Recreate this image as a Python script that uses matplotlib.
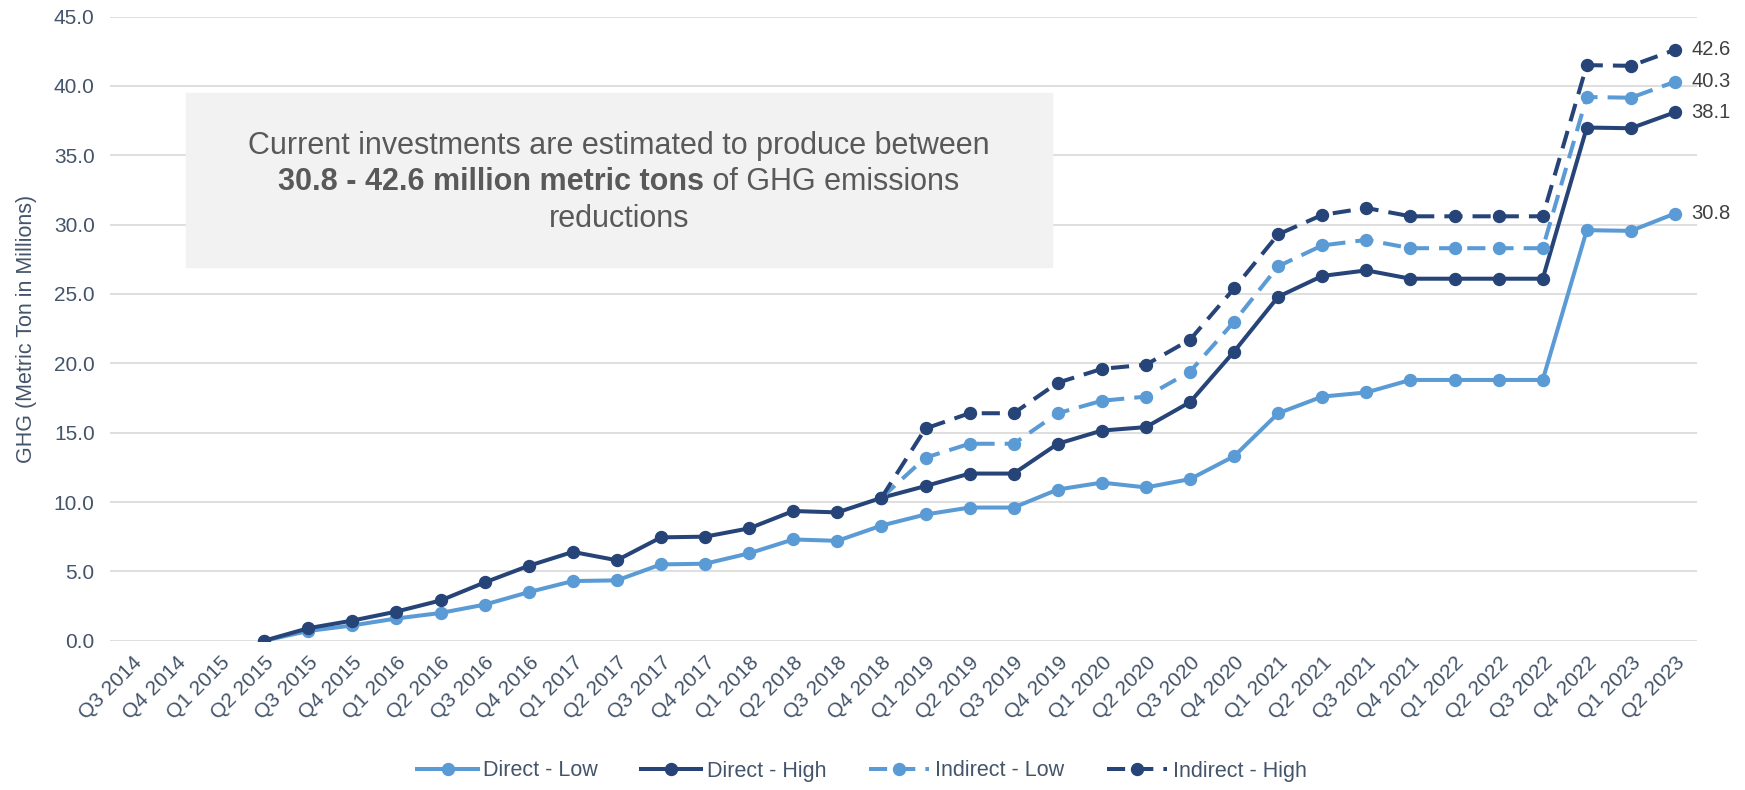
import matplotlib
matplotlib.use('Agg')
import matplotlib.pyplot as plt
import numpy as np

plt.rcParams['font.family'] = ['Liberation Sans', 'DejaVu Sans']

quarters = ['Q3 2014', 'Q4 2014', 'Q1 2015', 'Q2 2015', 'Q3 2015', 'Q4 2015',
            'Q1 2016', 'Q2 2016', 'Q3 2016', 'Q4 2016', 'Q1 2017', 'Q2 2017',
            'Q3 2017', 'Q4 2017', 'Q1 2018', 'Q2 2018', 'Q3 2018', 'Q4 2018',
            'Q1 2019', 'Q2 2019', 'Q3 2019', 'Q4 2019', 'Q1 2020', 'Q2 2020',
            'Q3 2020', 'Q4 2020', 'Q1 2021', 'Q2 2021', 'Q3 2021', 'Q4 2021',
            'Q1 2022', 'Q2 2022', 'Q3 2022', 'Q4 2022', 'Q1 2023', 'Q2 2023']

# direct series start at Q2 2015
direct_low = [0.0, 0.7, 1.1, 1.6, 2.0, 2.6, 3.5, 4.3, 4.35, 5.5, 5.55, 6.3,
              7.3, 7.2, 8.3, 9.1, 9.6, 9.6, 10.9, 11.4, 11.05, 11.65, 13.3,
              16.4, 17.6, 17.9, 18.8, 18.8, 18.8, 18.8, 29.6, 29.55, 30.8]
direct_high = [0.0, 0.9, 1.45, 2.1, 2.9, 4.2, 5.4, 6.4, 5.8, 7.45, 7.5, 8.1,
               9.35, 9.25, 10.3, 11.15, 12.05, 12.05, 14.2, 15.15, 15.4, 17.2,
               20.85, 24.8, 26.3, 26.7, 26.1, 26.1, 26.1, 26.1, 37.0, 36.95, 38.1]
# indirect series start at Q4 2018
indirect_low = [10.3, 13.2, 14.2, 14.2, 16.4, 17.3, 17.6, 19.4, 23.0, 27.0,
                28.5, 28.9, 28.3, 28.3, 28.3, 28.3, 39.2, 39.15, 40.3]
indirect_high = [10.3, 15.3, 16.4, 16.4, 18.6, 19.6, 19.9, 21.7, 25.4, 29.3,
                 30.7, 31.2, 30.6, 30.6, 30.6, 30.6, 41.5, 41.45, 42.6]

light = '#5B9BD5'
dark = '#264478'
axc = '#44546A'

fig = plt.figure(figsize=(17.45, 7.9), dpi=100)
ax = fig.add_axes([0.063, 0.189, 0.9095, 0.79])

x = np.arange(len(quarters))
xd = x[quarters.index('Q2 2015'):]
xi = x[quarters.index('Q4 2018'):]

lw, ms = 2.9, 8.6
ax.plot(xd, direct_low, color=light, lw=lw, marker='o', ms=ms, label='Direct - Low', zorder=3)
ax.plot(xd, direct_high, color=dark, lw=lw, marker='o', ms=ms, label='Direct - High', zorder=4)
ax.plot(xi, indirect_low, color=light, lw=lw, marker='o', ms=ms, dashes=(4.5, 2.5),
        label='Indirect - Low', zorder=5)
ax.plot(xi, indirect_high, color=dark, lw=lw, marker='o', ms=ms, dashes=(4.5, 2.5),
        label='Indirect - High', zorder=6)

for s in [direct_low, direct_high, indirect_low, indirect_high]:
    ax.annotate(f'{s[-1]:.1f}', (x[-1], s[-1]), xytext=(12, 0), textcoords='offset points',
                va='center', ha='left', fontsize=14.5, color='#404040')

ax.set_xlim(-0.5, len(quarters) - 0.5)
ax.set_ylim(0, 45)
ax.set_yticks(np.arange(0, 46, 5))
ax.set_yticklabels([f'{v:.1f}' for v in np.arange(0, 46, 5)])
ax.set_xticks(x)
ax.set_xticklabels(quarters, rotation=45, ha='right', rotation_mode='anchor')
ax.tick_params(axis='both', length=0, labelsize=15, labelcolor=axc)
ax.tick_params(axis='x', pad=9)
ax.tick_params(axis='y', pad=11)
ax.grid(axis='y', color='#D9D9D9', lw=1.2)
ax.set_axisbelow(True)
for sp in ax.spines.values():
    sp.set_visible(False)
ax.set_ylabel('GHG (Metric Ton in Millions)', fontsize=15.5, color=axc, labelpad=12)

# annotation box
box_l, box_r = 186 / 1745, 1052 / 1745
box_t, box_b = 1 - 93 / 790, 1 - 267 / 790
fig.patches.append(plt.Rectangle((box_l, box_b), box_r - box_l, box_t - box_b,
                                 transform=fig.transFigure, color='#F2F2F2', zorder=10))
cx = (box_l + box_r) / 2
tc = '#595959'
fs = 22
fig.text(cx, 1 - 146 / 790, 'Current investments are estimated to produce between',
         ha='center', va='center', fontsize=fs, color=tc, zorder=11)
fig.text(cx, 1 - 219 / 790, 'reductions', ha='center', va='center', fontsize=fs, color=tc, zorder=11)
r = fig.canvas.get_renderer()
tb = fig.text(0, 1 - 182 / 790, '30.8 - 42.6 million metric tons', ha='left', va='center',
              fontsize=fs, fontweight='bold', color=tc, zorder=11)
tn = fig.text(0, 1 - 182 / 790, ' of GHG emissions', ha='left', va='center',
              fontsize=fs, color=tc, zorder=11)
wb = tb.get_window_extent(r).width / fig.bbox.width
wn = tn.get_window_extent(r).width / fig.bbox.width
start = cx - (wb + wn) / 2
tb.set_x(start)
tn.set_x(start + wb)

fig.legend(loc='center', bbox_to_anchor=(862 / 1745, 1 - 771 / 790), ncol=4, frameon=False,
           fontsize=15.5, labelcolor=axc, handlelength=2.8, handletextpad=0.25,
           columnspacing=2.0, bbox_transform=fig.transFigure)

fig.savefig('out.png', dpi=100)
